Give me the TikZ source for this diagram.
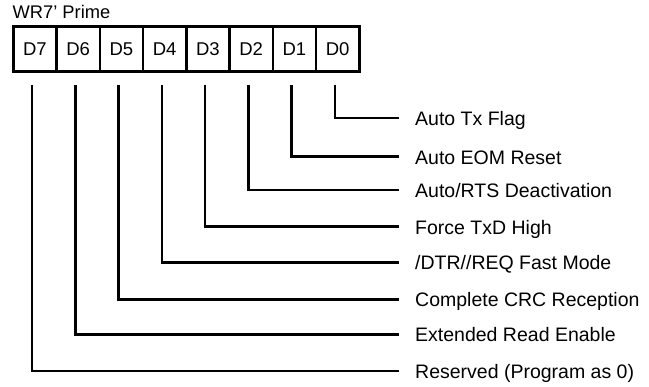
\documentclass[tikz,border=0pt]{standalone}
\usepackage{fontspec}
\setmainfont{Liberation Sans}
\usetikzlibrary{positioning}
\begin{document}
\begin{tikzpicture}[x=1pt,y=-1pt,
  cell/.style={draw,line width=2.6pt,minimum width=43.25pt,minimum height=45pt,inner sep=0pt,font=\fontsize{18.5}{20}\selectfont,anchor=north west},
  lbl/.style={anchor=base west,inner sep=0pt,font=\fontsize{19.5}{22}\selectfont},
  lead/.style={line width=2.6pt}]
\useasboundingbox (0,0) rectangle (649,387);
\node[anchor=base west,inner sep=0pt,font=\fontsize{18.3}{20}\selectfont] (title) at (12.5,18.5) {WR7' Prime};
\foreach \b [count=\i from 0] in {7,6,5,4,3,2,1,0}{
  \node[cell] (d\b) at (12+\i*43.25,25) {D\b};
}
\foreach \b/\y/\t in {0/118/{Auto Tx Flag},1/156.7/{Auto EOM Reset},2/190/{Auto/RTS Deactivation},3/226.7/{Force TxD High},4/262.3/{/DTR//REQ Fast Mode},5/299.3/{Complete CRC Reception},6/334.3/{Extended Read Enable},7/371/{Reserved (Program as 0)}}{
  \node[lbl] (l\b) at (415,\y+7.5) {\t};
  \coordinate (e\b) at (399,\y);
  \draw[lead] ([xshift=-2.8pt,yshift=-12pt]d\b.south) |- (e\b);
}
\end{tikzpicture}
\end{document}
